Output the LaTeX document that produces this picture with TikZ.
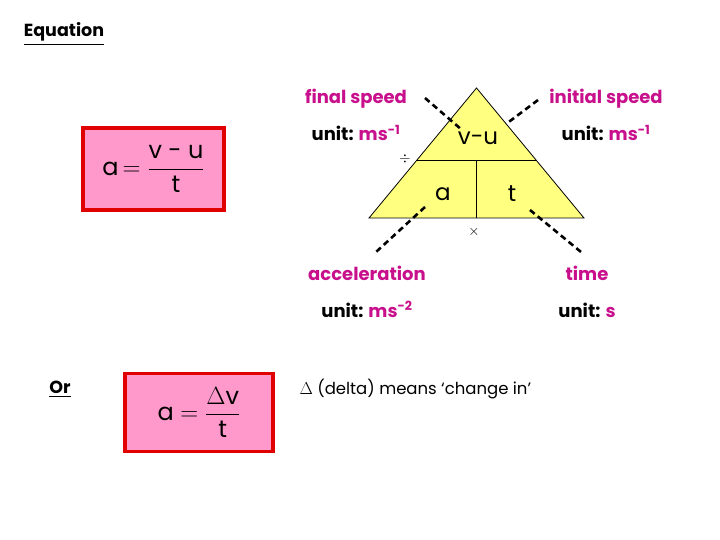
\documentclass[tikz,border=0pt]{standalone}
\usepackage{amsmath}
\usepackage{fontspec}
\setmainfont{Poppins}
\usetikzlibrary{positioning,calc}
\definecolor{qtymag}{RGB}{200,16,140}
\definecolor{boxpink}{RGB}{255,153,204}
\definecolor{boxred}{RGB}{225,0,0}
\definecolor{triyellow}{RGB}{255,255,128}
\tikzset{
  heading/.style={font=\bfseries\fontsize{17.5}{20}\selectfont},
  qty/.style={text=qtymag,anchor=base,font=\bfseries\fontsize{18}{20}\selectfont},
  unitline/.style={anchor=base,font=\bfseries\fontsize{18}{20}\selectfont},
  cell/.style={font=\fontsize{23}{26}\selectfont},
  opsign/.style={font=\fontsize{14}{16}\selectfont},
  pointer/.style={draw,line width=2.6pt,dash pattern=on 6pt off 4pt},
  formbox/.style={draw=boxred,fill=boxpink,line width=3.5pt,font=\fontsize{24}{28}\selectfont},
  tri/.style={draw,fill=triyellow,line width=0.8pt}
}
\newcommand{\msunit}[1]{unit: \textcolor{qtymag}{ms\textsuperscript{#1}}}

\begin{document}
\begin{tikzpicture}[x=1pt,y=-1pt]
  \useasboundingbox (0,0) rectangle (720,540);

  \node[heading] (eqn) at (64,34) {\underline{Equation}};
  \node[heading] (or) at (60,389) {\underline{Or}};

  % formula boxes
  \node[formbox,minimum width=141,minimum height=82] (box1) at (153.5,169)
    {a\,$=\dfrac{\text{v - u}}{\text{t}}$};
  \node[formbox,minimum width=148,minimum height=78] (box2) at (199,412.5)
    {a $=\dfrac{\Delta\text{v}}{\text{t}}$};

  % triangle
  \coordinate (top) at (476.5,88);
  \coordinate (bl) at (369,218);
  \coordinate (br) at (584,218);
  \coordinate (ml) at ($(top)!0.56!(bl)$);
  \coordinate (mr) at ($(top)!0.56!(br)$);
  \draw[tri] (top) -- (bl) -- (br) -- cycle;
  \draw[line width=0.8pt] (ml) -- (mr);
  \draw[line width=0.8pt] ($(ml)!0.5!(mr)$) -- ($(bl)!0.5!(br)$);
  \node[cell] (vu) at (478,138) {v-u};
  \node[cell] (acc) at (443,194) {a};
  \node[cell] (tim) at (512,194) {t};
  \node[opsign] (divide) at (405,159) {$\div$};
  \node[opsign] (times) at (474,232) {$\times$};

  % quantities
  \node[qty] (final) at (356,104) {final speed};
  \node[unitline] (finalu) at ($(final.base)+(0,37)$) {\msunit{-1}};
  \node[qty] (initial) at (606,104) {initial speed};
  \node[unitline] (initialu) at ($(initial.base)+(0,37)$) {\msunit{-1}};
  \node[qty] (accel) at (367,280) {acceleration};
  \node[unitline] (accelu) at ($(accel.base)+(0,37)$) {\msunit{-2}};
  \node[qty] (time) at (587,280) {time};
  \node[unitline] (timeu) at ($(time.base)+(0,37)$) {unit: \textcolor{qtymag}{s}};

  % dashed pointers
  \coordinate (p1a) at (425,98);  \coordinate (p1b) at (462,130);
  \coordinate (p2a) at (538,100); \coordinate (p2b) at (506,124);
  \coordinate (p3a) at (425,207); \coordinate (p3b) at (376,252);
  \coordinate (p4a) at (530,210); \coordinate (p4b) at (581,252);
  \draw[pointer] (p1a) -- (p1b);
  \draw[pointer] (p2a) -- (p2b);
  \draw[pointer] (p3a) -- (p3b);
  \draw[pointer] (p4a) -- (p4b);

  \node[anchor=west,font=\fontsize{16.5}{18}\selectfont] (delta) at (296,389)
    {$\Delta$ (delta) means ‘change in’};
\end{tikzpicture}
\end{document}
